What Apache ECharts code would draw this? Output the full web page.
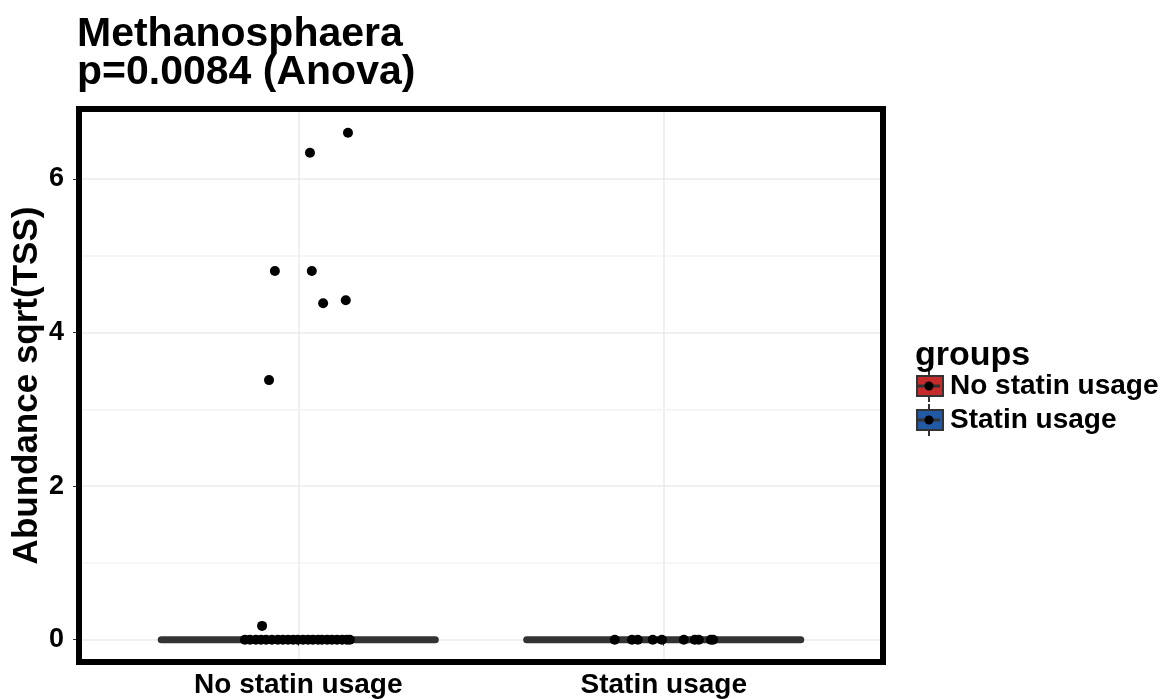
<!DOCTYPE html>
<html>
<head>
<meta charset="utf-8">
<script src="https://cdn.jsdelivr.net/npm/echarts@6/dist/echarts.min.js"></script>
<style>
  html, body { margin: 0; background: #fff; }
  #chart { width: 1167px; height: 699px; }
</style>
</head>
<body>
<div id="chart"></div>
<script>
// groups on the x axis (positions 1 and 2)
const groups = ['No statin usage', 'Statin usage'];
const groupColors = ['#c62b2b', '#2159a5'];

// box stats per group: [position, q1, median, q3, lower whisker, upper whisker]
const boxStats = [
  [1, 0, 0, 0, 0, 0],
  [2, 0, 0, 0, 0, 0]
];

// jittered points, x = group position + jitter
const noStatinX = [0.854, 0.868, 0.884, 0.898, 0.912, 0.928, 0.944, 0.958, 0.972, 0.986, 0.999,
  1.013, 1.027, 1.040, 1.054, 1.065, 1.079, 1.092, 1.106, 1.120, 1.133, 1.141,
  0.901, 0.920, 0.936, 1.037, 1.068, 1.130, 1.032, 1.136];
const noStatinY = [0, 0, 0, 0, 0, 0, 0, 0, 0, 0, 0,
  0, 0, 0, 0, 0, 0, 0, 0, 0, 0, 0,
  0.18, 3.38, 4.80, 4.80, 4.38, 4.42, 6.34, 6.60];
const statinX = [1.866, 1.913, 1.929, 1.970, 1.995, 2.055, 2.085, 2.096, 2.129, 2.135];
const statinY = [0, 0, 0, 0, 0, 0, 0, 0, 0, 0];

const yTicks = [0, 2, 4, 6];
const yMinor = [1, 3, 5];

const boxWidth = 0.75;
const font = "'Liberation Sans', Arial, sans-serif";

function renderBox(params, api) {
  const x = api.value(0);
  const lo = api.coord([x - boxWidth / 2, api.value(1)]);
  const hi = api.coord([x + boxWidth / 2, api.value(3)]);
  const m1 = api.coord([x - boxWidth / 2, api.value(2)]);
  const m2 = api.coord([x + boxWidth / 2, api.value(2)]);
  const w1 = api.coord([x, api.value(4)]);
  const w2 = api.coord([x, api.value(5)]);
  return {
    type: 'group',
    children: [
      { type: 'line', shape: { x1: w1[0], y1: w1[1], x2: w2[0], y2: w2[1] },
        style: { stroke: '#333', lineWidth: 2 } },
      { type: 'rect', shape: { x: lo[0], y: hi[1], width: hi[0] - lo[0], height: lo[1] - hi[1] },
        style: { fill: api.visual('color'), stroke: '#333', lineWidth: 3 } },
      { type: 'line', shape: { x1: m1[0], y1: m1[1], x2: m2[0], y2: m2[1] },
        style: { stroke: '#333', lineWidth: 7, lineCap: 'round' } }
    ]
  };
}

// little boxplot glyph drawn over each legend key
const legendLeft = 916, legendTop = 372, legendRow = 34, keyW = 26;
const legendGlyphs = [];
groups.forEach((g, i) => {
  const cx = legendLeft + keyW / 2, cy = legendTop + 14 + i * legendRow;
  legendGlyphs.push(
    { type: 'line', z: 1, shape: { x1: cx, y1: cy - 16, x2: cx, y2: cy + 16 }, style: { stroke: '#333', lineWidth: 2 } },
    { type: 'line', z: 10, shape: { x1: cx - keyW / 2 + 2, y1: cy, x2: cx + keyW / 2 - 2, y2: cy }, style: { stroke: '#333', lineWidth: 3 } },
    { type: 'circle', z: 11, shape: { cx: cx, cy: cy, r: 4.5 }, style: { fill: '#000' } }
  );
});

const chart = echarts.init(document.getElementById('chart'));

chart.setOption({
  animation: false,
  textStyle: { fontFamily: font },
  title: [
    {
      text: 'Methanosphaera\np=0.0084 (Anova)',
      left: 77, top: 16, padding: 0,
      textStyle: { fontSize: 41, fontWeight: 'bold', color: '#000', lineHeight: 38, fontFamily: font }
    },
    {
      text: 'groups',
      left: 915, top: 339, padding: 0,
      textStyle: { fontSize: 34, fontWeight: 'bold', color: '#000', fontFamily: font }
    }
  ],
  legend: {
    orient: 'vertical',
    left: legendLeft, top: legendTop, padding: 0,
    icon: 'rect',
    itemWidth: keyW, itemHeight: 20, itemGap: 6,
    itemStyle: { borderColor: '#333', borderWidth: 2 },
    textStyle: { fontSize: 28, fontWeight: 'bold', color: '#000', fontFamily: font, padding: [0, 0, 0, 2] },
    data: groups
  },
  graphic: legendGlyphs,
  grid: {
    left: 79, right: 284, top: 109, bottom: 37,
    outerBoundsMode: 'none',
    show: true, z: 10,
    borderColor: '#000', borderWidth: 6,
    backgroundColor: 'transparent'
  },
  xAxis: {
    type: 'value', min: 0.4, max: 2.6,
    axisLine: { show: false },
    axisTick: { show: true, customValues: [1, 2], length: 6, lineStyle: { color: '#333' } },
    axisLabel: {
      customValues: [1, 2], margin: 9,
      formatter: v => groups[Math.round(v) - 1],
      fontSize: 28, fontWeight: 'bold', color: '#000', fontFamily: font
    },
    splitLine: { show: true, lineStyle: { color: '#ebebeb', width: 1.5 } }
  },
  yAxis: {
    type: 'value', min: -0.29, max: 6.91,
    name: 'Abundance sqrt(TSS)', nameLocation: 'middle', nameGap: 34,
    nameMoveOverlap: false,
    nameTextStyle: { fontSize: 35, fontWeight: 'bold', color: '#000', fontFamily: font },
    axisLine: { show: false },
    axisTick: { show: true, customValues: yTicks, length: 6, lineStyle: { color: '#333' } },
    axisLabel: {
      customValues: yTicks, margin: 15,
      fontSize: 27, fontWeight: 'bold', color: '#000', fontFamily: font
    },
    splitLine: { show: true, lineStyle: { color: '#ebebeb', width: 1.5 } }
  },
  series: [
    {
      name: groups[0], type: 'custom', renderItem: renderBox,
      itemStyle: { color: groupColors[0] },
      encode: { x: 0, y: [1, 2, 3, 4, 5] },
      data: [boxStats[0]], z: 3
    },
    {
      name: groups[1], type: 'custom', renderItem: renderBox,
      itemStyle: { color: groupColors[1] },
      encode: { x: 0, y: [1, 2, 3, 4, 5] },
      data: [boxStats[1]], z: 3
    },
    {
      type: 'scatter', symbolSize: 10, z: 5,
      itemStyle: { color: '#000', opacity: 1 },
      data: noStatinX.map((x, i) => [x, noStatinY[i]]).concat(statinX.map((x, i) => [x, statinY[i]])),
      markLine: {
        silent: true, symbol: 'none', label: { show: false },
        lineStyle: { color: '#f3f3f3', width: 1.5, type: 'solid' },
        data: yMinor.map(v => ({ yAxis: v }))
      }
    }
  ]
});
</script>
</body>
</html>
